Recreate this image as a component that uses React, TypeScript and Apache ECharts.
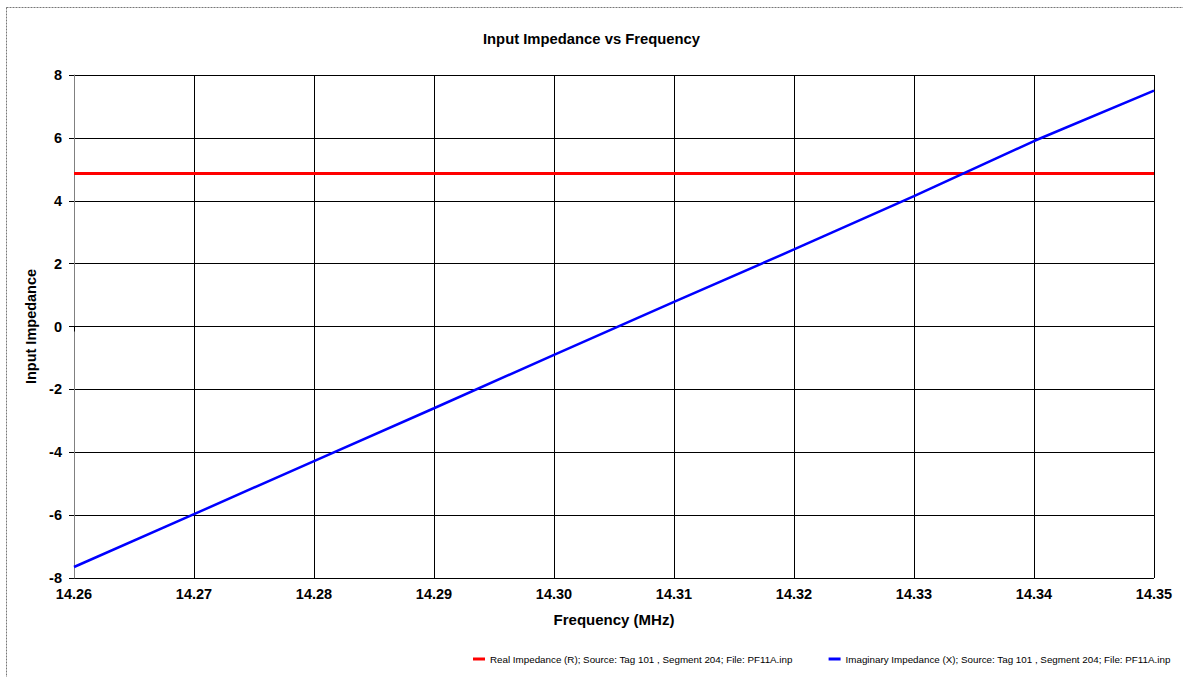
import React, { useEffect, useRef } from "react";
import * as echarts from "echarts";

const frequencies = [14.26, 14.27, 14.28, 14.29, 14.30, 14.31, 14.32, 14.33, 14.34, 14.35];
const realImpedance = [4.87, 4.87, 4.87, 4.87, 4.87, 4.87, 4.87, 4.87, 4.87, 4.87];
const imagImpedance = [-7.65, -5.97, -4.28, -2.6, -0.9, 0.78, 2.45, 4.15, 5.9, 7.5];
const seriesNames = [
  "Real Impedance (R); Source: Tag 101 , Segment 204; File: PF11A.inp",
  "Imaginary Impedance (X); Source: Tag 101 , Segment 204; File: PF11A.inp",
];

const FONT = "'Liberation Sans', Arial, sans-serif";

export default function App() {
  const ref = useRef<HTMLDivElement>(null);
  useEffect(() => {
    document.body.style.margin = "0";
    const chart = echarts.init(ref.current!, null, { renderer: "svg" });
    chart.setOption({
      animation: false,
      backgroundColor: "#ffffff",
      title: {
        text: "Input Impedance vs Frequency",
        left: "center",
        top: 26,
        textStyle: { fontFamily: FONT, fontSize: 14.8, fontWeight: "bold", color: "#000" },
      },
      graphic: [
        {
          type: "rect",
          shape: { x: 6.5, y: 7.5, width: 1200, height: 700 },
          style: { fill: "none", stroke: "#777", lineWidth: 1, lineDash: [2, 1] },
          silent: true,
        },
      ],
      grid: { left: 74, right: 29, top: 75, bottom: 99 },
      legend: {
        left: 473,
        top: 654,
        width: 760,
        padding: 0,
        itemGap: 36,
        itemWidth: 12,
        itemHeight: 3,
        icon: "rect",
        textStyle: { fontFamily: FONT, fontSize: 9.8, color: "#000" },
        data: seriesNames,
      },
      xAxis: {
        type: "value",
        min: 14.26,
        max: 14.35,
        interval: 0.01,
        name: "Frequency (MHz)",
        nameLocation: "middle",
        nameGap: 34,
        nameTextStyle: { fontFamily: FONT, fontSize: 15, fontWeight: "bold", color: "#000" },
        axisLine: { lineStyle: { color: "#000", width: 1 } },
        axisTick: { show: true, length: 5, lineStyle: { color: "#000" } },
        axisLabel: {
          fontFamily: FONT,
          fontSize: 14.5,
          fontWeight: "bold",
          color: "#000",
          margin: 8,
          formatter: (v: number) => v.toFixed(2),
        },
        splitLine: { show: true, lineStyle: { color: "#000", width: 1 } },
      },
      yAxis: {
        type: "value",
        min: -8,
        max: 8,
        interval: 2,
        name: "Input Impedance",
        nameLocation: "middle",
        nameGap: 30,
        nameTextStyle: { fontFamily: FONT, fontSize: 14.5, fontWeight: "bold", color: "#000" },
        axisLine: { show: true, lineStyle: { color: "#808080", width: 1 } },
        axisTick: { show: true, length: 5, lineStyle: { color: "#000" } },
        axisLabel: { fontFamily: FONT, fontSize: 14.5, fontWeight: "bold", color: "#000", margin: 12 },
        splitLine: { show: true, lineStyle: { color: "#000", width: 1 } },
      },
      series: [
        {
          name: seriesNames[0],
          type: "line",
          data: frequencies.map((f, i) => [f, realImpedance[i]]),
          showSymbol: false,
          lineStyle: { color: "#ff0000", width: 3 },
          itemStyle: { color: "#ff0000" },
          z: 3,
        },
        {
          name: seriesNames[1],
          type: "line",
          data: frequencies.map((f, i) => [f, imagImpedance[i]]),
          showSymbol: false,
          lineStyle: { color: "#0000ff", width: 2.5 },
          itemStyle: { color: "#0000ff" },
          z: 4,
        },
      ],
    });
    return () => chart.dispose();
  }, []);
  return (
    <div
      ref={ref}
      style={{ position: "absolute", left: 0, top: 0, width: 1183, height: 677 }}
    />
  );
}
